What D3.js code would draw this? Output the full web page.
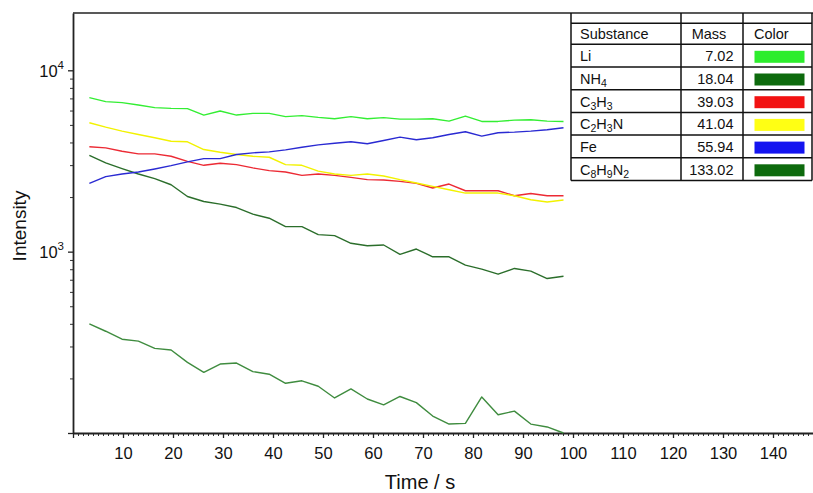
<!DOCTYPE html>
<html>
<head>
<meta charset="utf-8">
<script src="https://cdn.jsdelivr.net/npm/d3@7"></script>
<style>
  body { margin: 0; background: #fff; }
  text { font-family: "Liberation Sans", Arial, sans-serif; fill: #111; }
</style>
</head>
<body>
<svg id="chart" width="813" height="493"></svg>
<script>
// sample times (s)
const time = [3.27, 6.54, 9.81, 13.08, 16.35, 19.62, 22.89, 26.16, 29.43, 32.70,
              35.97, 39.24, 42.51, 45.78, 49.05, 52.32, 55.59, 58.86, 62.13, 65.40,
              68.67, 71.94, 75.21, 78.48, 81.75, 85.02, 88.29, 91.56, 94.83, 98.10];

const seriesLi = [7070, 6720, 6635, 6435, 6226, 6170, 6147, 5665, 5961, 5665,
                  5789, 5789, 5550, 5621, 5501, 5410, 5550, 5410, 5480, 5382,
                  5382, 5410, 5245, 5592, 5225, 5225, 5313, 5340, 5245, 5225];
const seriesNH4 = [3399, 3085, 2869, 2681, 2525, 2339, 2015, 1890, 1829, 1751,
                   1609, 1529, 1374, 1374, 1242, 1225, 1112, 1078, 1088, 966,
                   1034, 937, 937, 843, 801, 751, 808, 781, 711, 732];
const seriesC3H3 = [3785, 3737, 3578, 3461, 3461, 3357, 3149, 2993, 3070, 3020,
                    2895, 2797, 2751, 2634, 2682, 2634, 2568, 2494, 2484, 2440,
                    2379, 2244, 2360, 2167, 2167, 2167, 2034, 2094, 2034, 2034];
const seriesC2H3N = [5141, 4860, 4619, 4428, 4246, 4065, 4034, 3657, 3533, 3431,
                     3357, 3315, 3020, 2993, 2779, 2682, 2634, 2682, 2614, 2494,
                     2391, 2290, 2195, 2104, 2104, 2104, 2034, 1932, 1877, 1925];
const seriesFe = [2379, 2591, 2682, 2751, 2858, 2981, 3126, 3260, 3260, 3431,
                  3506, 3551, 3643, 3765, 3882, 3963, 4034, 3933, 4101, 4278,
                  4138, 4246, 4428, 4583, 4333, 4525, 4560, 4619, 4701, 4823];
const seriesC8H9N2 = [400, 364, 329, 321, 293, 287, 245, 216, 240, 243,
                      218, 211, 188, 194, 181, 156, 175, 154, 143, 159,
                      147, 124, 112, 113, 158, 126, 132, 112, 108, 100];

const substances = ["Li", "NH4", "C3H3", "C2H3N", "Fe", "C8H9N2"];
const masses = ["7.02", "18.04", "39.03", "41.04", "55.94", "133.02"];
const swatchColors = ["#2ded2d", "#0d6a0d", "#f21212", "#ffff14", "#1414f0", "#0d6a0d"];
const lineColors = ["#33ee33", "#2b6e2b", "#ec2a34", "#f2f200", "#2a2ad2", "#3f8c3f"];
const seriesAll = [seriesLi, seriesNH4, seriesC3H3, seriesC2H3N, seriesFe, seriesC8H9N2];

const xTicksMajor = [0, 10, 20, 30, 40, 50, 60, 70, 80, 90, 100, 110, 120, 130, 140];
const yTicksMajor = [100, 1000, 10000];
const yTickLabels = {1000: "3", 10000: "4"};

const svg = d3.select("#chart");

const x = d3.scaleLinear().domain([0, 148]).range([73, 813]);
const y = d3.scaleLog().domain([100, 20700]).range([433, 13]);

// frame top
svg.append("line")
    .attr("x1", 73).attr("x2", 813).attr("y1", 13).attr("y2", 13)
    .attr("stroke", "#222").attr("stroke-width", 1.6);

// x axis: minor then major
const xMinor = d3.range(0, 149, 1);
svg.append("g")
    .attr("transform", "translate(0,433)")
    .call(d3.axisBottom(x).tickValues(xMinor).tickSize(3).tickFormat(""))
    .call(g => g.select(".domain").remove())
    .call(g => g.selectAll("text").remove())
    .call(g => g.selectAll("line").attr("stroke", "#333").attr("stroke-width", 1));

const xAxis = svg.append("g")
    .attr("transform", "translate(0,433)")
    .call(d3.axisBottom(x).tickValues(xTicksMajor).tickSize(5).tickSizeOuter(0)
        .tickFormat(d => d));
xAxis.select(".domain").attr("stroke", "#222").attr("stroke-width", 1.8);
xAxis.selectAll("line").attr("stroke", "#222").attr("stroke-width", 1.3);
xAxis.selectAll("text").filter(d => d === 0).remove();
xAxis.selectAll("text")
    .attr("y", 14)
    .style("font-size", "16.5px")
    .style("font-family", "'Liberation Sans', Arial, sans-serif")
    .attr("fill", "#111");

// y axis
const yMinor = [200, 300, 400, 500, 600, 700, 800, 900,
                2000, 3000, 4000, 5000, 6000, 7000, 8000, 9000];
svg.append("g")
    .attr("transform", "translate(73,0)")
    .call(d3.axisLeft(y).tickValues(yMinor).tickSize(3).tickFormat(""))
    .call(g => g.select(".domain").remove())
    .call(g => g.selectAll("text").remove())
    .call(g => g.selectAll("line").attr("stroke", "#333").attr("stroke-width", 1));

const yAxis = svg.append("g")
    .attr("transform", "translate(73,0)")
    .call(d3.axisLeft(y).tickValues(yTicksMajor).tickSize(5).tickSizeOuter(0).tickFormat(""));
yAxis.selectAll("text").remove();
yAxis.select(".domain").attr("stroke", "#222").attr("stroke-width", 1.8);
yAxis.selectAll("line").attr("stroke", "#222").attr("stroke-width", 1.3);

// y tick labels 10^n
const yLab = svg.append("g");
yTicksMajor.filter(v => yTickLabels[v]).forEach(v => {
    const t = yLab.append("text")
        .attr("x", 64)
        .attr("y", y(v) + 6.5)
        .attr("text-anchor", "end")
        .style("font-size", "16.5px");
    t.append("tspan").text("10");
    t.append("tspan").attr("dy", -8).style("font-size", "11.5px").text(yTickLabels[v]);
});

// axis titles
svg.append("text")
    .attr("transform", "translate(26,226) rotate(-90)")
    .attr("text-anchor", "middle")
    .style("font-size", "19px")
    .text("Intensity");

svg.append("text")
    .attr("x", 420)
    .attr("y", 489)
    .attr("text-anchor", "middle")
    .style("font-size", "20px")
    .text("Time / s");

// lines
const line = d3.line()
    .x((d, i) => x(time[i]))
    .y(d => y(d));

svg.append("g")
    .selectAll("path.series")
    .data(d3.range(seriesAll.length))
    .join("path")
    .attr("class", "series")
    .attr("d", i => line(seriesAll[i]))
    .attr("fill", "none")
    .attr("stroke", i => lineColors[i])
    .attr("stroke-width", 1.4)
    .attr("stroke-linejoin", "round");

// legend table
const tbl = svg.append("g");
const colX = [571, 681, 743, 812];
const tableTop = 23.3, headH = 21, rowH = 22.7;
const rowY = d3.range(substances.length + 1).map(i => tableTop + headH + i * rowH);
const tableBottom = rowY[rowY.length - 1];

tbl.append("rect")
    .attr("x", colX[0]).attr("y", tableTop)
    .attr("width", colX[3] - colX[0]).attr("height", tableBottom - tableTop)
    .attr("fill", "#fff");

colX.forEach(cx => {
    tbl.append("line")
        .attr("x1", cx).attr("x2", cx).attr("y1", 13).attr("y2", tableBottom)
        .attr("stroke", "#111").attr("stroke-width", 1.5);
});
[tableTop].concat(rowY).forEach(ry => {
    tbl.append("line")
        .attr("x1", colX[0]).attr("x2", colX[3]).attr("y1", ry).attr("y2", ry)
        .attr("stroke", "#111").attr("stroke-width", 1.5);
});

const headFont = "14.5px";
tbl.append("text").attr("x", 580).attr("y", tableTop + 16).style("font-size", headFont).text("Substance");
tbl.append("text").attr("x", 709).attr("y", tableTop + 16).attr("text-anchor", "middle").style("font-size", headFont).text("Mass");
tbl.append("text").attr("x", 754).attr("y", tableTop + 16).style("font-size", headFont).text("Color");

substances.forEach((name, i) => {
    const top = rowY[i];
    const t = tbl.append("text")
        .attr("x", 580).attr("y", top + 17)
        .style("font-size", headFont);
    let shifted = false;
    name.split(/(\d+)/).filter(s => s.length).forEach(part => {
        if (/^\d+$/.test(part)) {
            t.append("tspan").attr("dy", 3).style("font-size", "10.5px").text(part);
            shifted = true;
        } else {
            t.append("tspan").attr("dy", shifted ? -3 : 0).text(part);
            shifted = false;
        }
    });
    tbl.append("text")
        .attr("x", 733.5).attr("y", top + 17)
        .attr("text-anchor", "end")
        .style("font-size", headFont)
        .text(masses[i]);
    tbl.append("rect")
        .attr("x", 754.5).attr("y", top + 6.5)
        .attr("width", 50).attr("height", 12)
        .attr("fill", swatchColors[i]);
});
</script>
</body>
</html>
